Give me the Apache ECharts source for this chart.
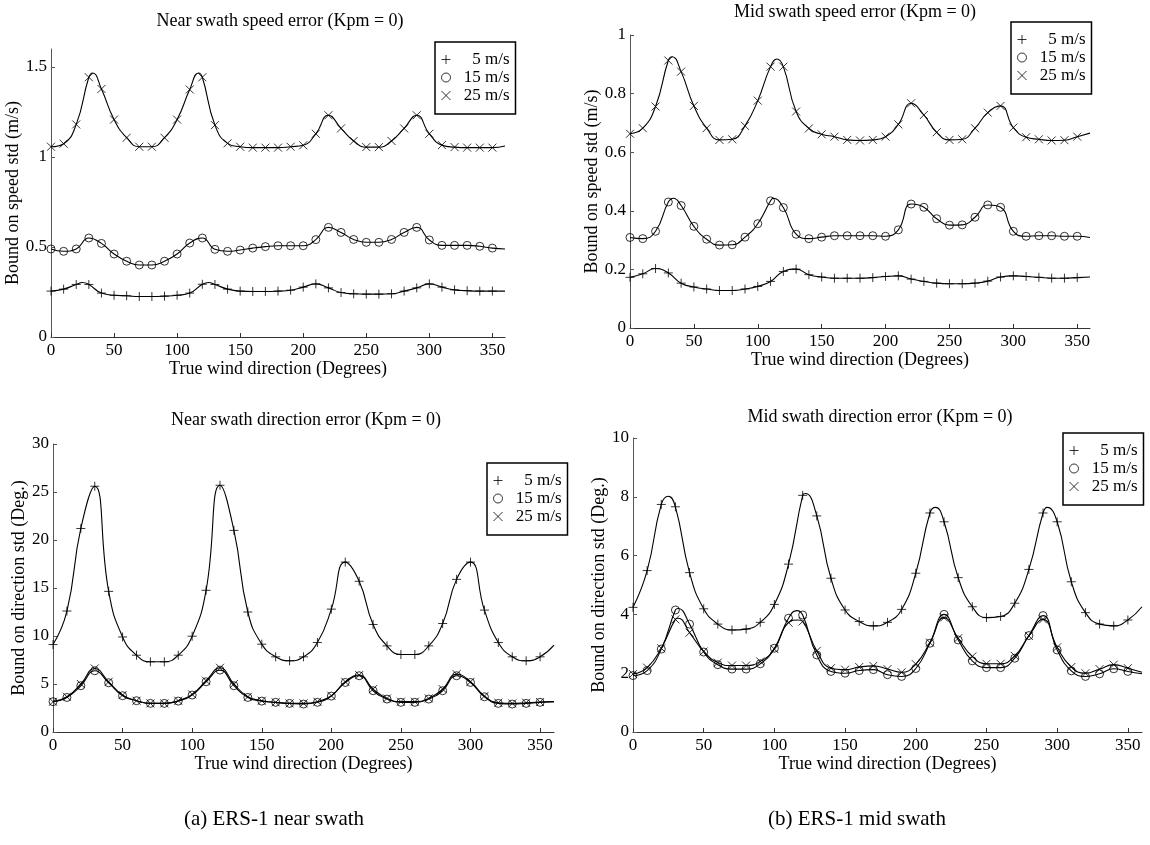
<!DOCTYPE html>
<html><head><meta charset="utf-8">
<script src="https://cdn.jsdelivr.net/npm/echarts@6/dist/echarts.min.js"></script>
<style>html,body{margin:0;padding:0;background:#fff}#c{width:1150px;height:845px}</style>
</head><body><div id="c"></div><script>
// ---- data ----
const deg = [0,10,20,30,40,50,60,70,80,90,100,110,120,130,140,150,160,170,180,190,200,210,220,230,240,250,260,270,280,290,300,310,320,330,340,350];
const xTicks = [0,50,100,150,200,250,300,350];
const ticksNearSpd = [0,0.5,1,1.5];
const ticksMidSpd = [0,0.2,0.4,0.6,0.8,1];
const ticksNearDir = [0,5,10,15,20,25,30];
const ticksMidDir = [0,2,4,6,8,10];
const seriesNames = ['5 m/s','15 m/s','25 m/s'];

const nearSpd5 = [0.255,0.266,0.292,0.292,0.244,0.232,0.229,0.225,0.225,0.227,0.232,0.244,0.293,0.292,0.266,0.255,0.253,0.253,0.255,0.260,0.277,0.295,0.273,0.247,0.240,0.238,0.238,0.240,0.255,0.273,0.295,0.277,0.262,0.257,0.255,0.255];
const nearSpd15 = [0.489,0.476,0.489,0.550,0.520,0.461,0.421,0.400,0.400,0.421,0.461,0.522,0.550,0.487,0.476,0.483,0.494,0.502,0.507,0.507,0.507,0.541,0.609,0.581,0.542,0.526,0.526,0.542,0.581,0.609,0.539,0.509,0.509,0.509,0.504,0.494];
const nearSpd25 = [1.057,1.074,1.181,1.443,1.378,1.208,1.107,1.057,1.057,1.107,1.208,1.375,1.443,1.177,1.076,1.057,1.052,1.052,1.052,1.057,1.065,1.129,1.232,1.159,1.089,1.055,1.055,1.089,1.159,1.232,1.129,1.066,1.055,1.052,1.052,1.052];
const nearSpd5Curve = [[25,0.303],[125,0.303],[360,0.255]];
const nearSpd15Curve = [[360,0.489]];
const nearSpd25Curve = [[33,1.467],[117,1.467],[360,1.061]];

const midSpd5 = [0.173,0.185,0.203,0.188,0.153,0.140,0.133,0.128,0.128,0.133,0.142,0.159,0.193,0.201,0.182,0.174,0.170,0.170,0.170,0.172,0.176,0.178,0.167,0.159,0.153,0.151,0.151,0.153,0.160,0.174,0.178,0.176,0.173,0.170,0.170,0.172];
const midSpd15 = [0.309,0.305,0.330,0.430,0.418,0.347,0.303,0.283,0.284,0.310,0.356,0.434,0.411,0.320,0.305,0.310,0.315,0.315,0.315,0.315,0.313,0.335,0.423,0.412,0.373,0.351,0.352,0.378,0.420,0.412,0.330,0.313,0.315,0.315,0.313,0.313];
const midSpd25 = [0.663,0.682,0.756,0.913,0.875,0.758,0.682,0.642,0.644,0.690,0.776,0.892,0.892,0.739,0.681,0.661,0.653,0.642,0.640,0.642,0.653,0.695,0.767,0.727,0.668,0.642,0.644,0.682,0.735,0.758,0.684,0.651,0.644,0.640,0.641,0.653];
const midSpd5Curve = [[360,0.174]];
const midSpd15Curve = [[34,0.443],[112,0.443],[360,0.309]];
const midSpd25Curve = [[33,0.926],[115,0.918],[360,0.665]];

const nearDir5 = [9.11,12.6,21.2,25.6,14.65,9.9,8.0,7.31,7.31,8.0,9.98,14.76,25.7,21.0,12.5,9.15,7.83,7.42,7.83,9.32,12.8,17.7,15.7,11.2,8.97,8.07,8.07,8.97,11.3,15.9,17.7,12.7,9.32,7.83,7.42,7.83];
const nearDir15 = [3.16,3.6,4.82,6.38,5.13,3.78,3.26,2.98,2.98,3.22,3.85,5.23,6.45,4.82,3.6,3.22,3.09,2.98,2.91,3.09,3.74,5.16,5.86,4.3,3.43,3.09,3.09,3.43,4.3,5.86,5.16,3.67,2.98,2.91,2.98,3.09];
const nearDir25 = [3.16,3.67,5.0,6.62,5.23,3.85,3.26,2.98,2.98,3.26,3.92,5.34,6.69,5.0,3.67,3.26,3.09,2.98,2.98,3.16,3.78,5.23,5.93,4.47,3.5,3.16,3.16,3.5,4.47,6.03,5.23,3.74,3.05,2.98,3.05,3.12];
const nearDir5Curve = [[360,9.04]];
const nearDir15Curve = [[360,3.16]];
const nearDir25Curve = [[360,3.16]];

const midDir5 = [4.24,5.49,7.74,7.66,5.42,4.19,3.67,3.47,3.50,3.73,4.34,5.71,8.05,7.35,5.23,4.15,3.76,3.61,3.73,4.17,5.40,7.45,7.15,5.25,4.26,3.89,3.93,4.38,5.53,7.45,7.15,5.11,4.06,3.67,3.61,3.81];
const midDir15 = [1.92,2.09,2.82,4.15,3.67,2.72,2.29,2.14,2.14,2.32,2.85,3.87,3.98,2.62,2.06,2.00,2.09,2.12,1.95,1.89,2.16,3.02,4.00,3.13,2.42,2.19,2.19,2.51,3.28,3.96,2.79,2.08,1.89,1.98,2.15,2.06];
const midDir25 = [1.97,2.19,2.85,3.83,3.38,2.74,2.36,2.26,2.26,2.40,2.82,3.72,3.76,2.76,2.17,2.12,2.21,2.25,2.14,2.03,2.31,3.04,3.89,3.19,2.57,2.32,2.32,2.59,3.27,3.83,2.88,2.21,2.00,2.14,2.29,2.17];
const midDir5Curve = [[25,8.02],[122,8.11],[214,7.64],[293,7.64],[360,4.26]];
const midDir15Curve = [[32,4.2],[116,4.13],[360,1.98]];
const midDir25Curve = [[32,3.87],[117,3.81],[360,2.03]];

// ---- build ----
const FONT = 'Liberation Serif';
const PLUS = 'path://M5,0L5,10M0,5L10,5';
const CROSS = 'path://M0,0L10,10M10,0L0,10';
const symbols = [PLUS, 'circle', CROSS];
const symSizes = [9, 8, 8];

function merged(vals, extra) {
  const pts = deg.map((d, i) => [d, vals[i]]).concat(extra);
  pts.sort((a, b) => a[0] - b[0]);
  return pts;
}

const panels = [
  {grid:{left:51, top:49, width:454, height:288}, max:1.6, yTicks:ticksNearSpd,
   yName:'Bound on speed std (m/s)', yGap:26, title:'Near swath speed error (Kpm = 0)', tx:280, ty:12,
   lg:{left:435, top:42}, vals:[nearSpd5,nearSpd15,nearSpd25], curves:[nearSpd5Curve,nearSpd15Curve,nearSpd25Curve]},
  {grid:{left:630, top:35, width:460, height:293}, max:1, yTicks:ticksMidSpd,
   yName:'Bound on speed std (m/s)', yGap:26, title:'Mid swath speed error (Kpm = 0)', tx:855, ty:3,
   lg:{left:1011, top:22}, vals:[midSpd5,midSpd15,midSpd25], curves:[midSpd5Curve,midSpd15Curve,midSpd25Curve]},
  {grid:{left:53, top:444, width:501, height:288}, max:30, yTicks:ticksNearDir,
   yName:'Bound on direction std (Deg.)', yGap:20, title:'Near swath direction error (Kpm = 0)', tx:306, ty:411,
   lg:{left:487, top:463}, vals:[nearDir5,nearDir15,nearDir25], curves:[nearDir5Curve,nearDir15Curve,nearDir25Curve]},
  {grid:{left:633, top:438, width:509, height:294}, max:10, yTicks:ticksMidDir,
   yName:'Bound on direction std (Deg.)', yGap:20, title:'Mid swath direction error (Kpm = 0)', tx:880, ty:408,
   lg:{left:1063, top:433}, vals:[midDir5,midDir15,midDir25], curves:[midDir5Curve,midDir15Curve,midDir25Curve]}
];

const option = {
  backgroundColor:'#fff', animation:false,
  grid:[], xAxis:[], yAxis:[], series:[], legend:[], title:[]
};

panels.forEach((p, gi) => {
  option.grid.push(Object.assign({containLabel:false}, p.grid));
  option.xAxis.push({
    gridIndex:gi, type:'value', min:0, max:360,
    axisLine:{show:true, onZero:false, lineStyle:{color:'#333', width:1}},
    axisTick:{show:true, inside:true, length:4, customValues:xTicks, lineStyle:{color:'#333'}},
    axisLabel:{customValues:xTicks, margin:5, fontSize:17, color:'#000', fontFamily:FONT},
    splitLine:{show:false},
    name:'True wind direction (Degrees)', nameLocation:'middle', nameGap:21,
    nameTextStyle:{fontSize:18, color:'#000', fontFamily:FONT}
  });
  option.yAxis.push({
    gridIndex:gi, type:'value', min:0, max:p.max,
    axisLine:{show:true, lineStyle:{color:'#555', width:1}},
    axisTick:{show:true, inside:true, length:4, customValues:p.yTicks, lineStyle:{color:'#555'}},
    axisLabel:{customValues:p.yTicks, margin:4, fontSize:17, color:'#000', fontFamily:FONT},
    splitLine:{show:false},
    name:p.yName, nameLocation:'middle', nameGap:p.yGap,
    nameTextStyle:{fontSize:18, color:'#000', fontFamily:FONT}
  });
  option.title.push({text:p.title, left:p.tx, top:p.ty, textAlign:'center', padding:0,
    textStyle:{fontSize:18, fontWeight:'normal', color:'#000', fontFamily:FONT}});
  for (let k = 0; k < 3; k++) {
    option.series.push({
      type:'line', name:'curve'+gi+'_'+k, xAxisIndex:gi, yAxisIndex:gi,
      data:merged(p.vals[k], p.curves[k]), smooth:0.5, symbol:'none', silent:true,
      lineStyle:{color:'#000', width:1.1}, z:2
    });
    option.series.push({
      type:'scatter', name:seriesNames[k], xAxisIndex:gi, yAxisIndex:gi,
      data:deg.map((d, i) => [d, p.vals[k][i]]),
      symbol:symbols[k], symbolSize:symSizes[k], silent:true,
      itemStyle:{color:'rgba(0,0,0,0)', borderColor:'#000', borderWidth:1}, z:3
    });
  }
  option.legend.push({
    data:seriesNames, orient:'vertical', left:p.lg.left, top:p.lg.top,
    padding:[9,6,10,6], itemGap:1, itemWidth:9, itemHeight:9,
    backgroundColor:'#fff', borderColor:'#000', borderWidth:1.5, borderRadius:0,
    selectedMode:false,
    itemStyle:{color:'rgba(0,0,0,0)', borderColor:'#000', borderWidth:1},
    formatter: n => '{t|' + n + '}',
    textStyle:{color:'#000', fontFamily:FONT, fontSize:17,
      rich:{t:{width:54, align:'right', fontSize:17, lineHeight:18.5, fontFamily:FONT, color:'#000'}}}
  });
});

option.title.push({text:'(a) ERS-1 near swath', left:274, top:809, textAlign:'center', padding:0,
  textStyle:{fontSize:21, fontWeight:'normal', color:'#000', fontFamily:FONT}});
option.title.push({text:'(b) ERS-1 mid swath', left:857, top:809, textAlign:'center', padding:0,
  textStyle:{fontSize:21, fontWeight:'normal', color:'#000', fontFamily:FONT}});

const chart = echarts.init(document.getElementById('c'), null, {renderer:'canvas'});
chart.setOption(option);
</script></body></html>
